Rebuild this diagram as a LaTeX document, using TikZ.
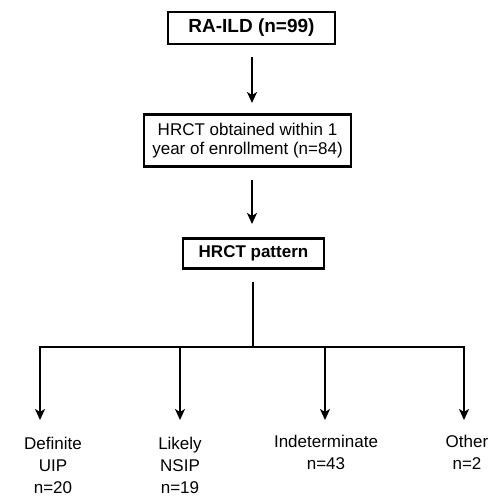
\documentclass[tikz,border=0pt]{standalone}
\usepackage{fontspec}
\setmainfont{Liberation Sans}
\usetikzlibrary{arrows.meta}
\begin{document}
\begin{tikzpicture}[x=1pt,y=-1pt,
  box/.style={draw=black,line width=2.2pt,inner sep=0pt,align=center,font=\fontsize{17}{20}\selectfont},
  lbl/.style={inner sep=0pt,align=center,anchor=north,font=\fontsize{17}{22}\selectfont},
  conn/.style={line width=2pt},
  arr/.style={conn,-{Stealth[length=11pt,width=10pt,inset=3pt]}}]
\useasboundingbox (0,0) rectangle (490,499);
\node[box,minimum width=167pt,minimum height=32pt,font=\fontsize{19}{22}\selectfont\bfseries] (b1) at (251.5,28) {RA-ILD (n=99)};
\node[box,minimum width=207pt,minimum height=52pt] (b2) at (247.5,140.5) {HRCT obtained within 1\\[-1pt]year of enrollment (n=84)};
\node[box,minimum width=141pt,minimum height=30pt,font=\fontsize{17}{20}\selectfont\bfseries] (b3) at (253.5,253.5) {HRCT pattern};
\coordinate (a1s) at (252,57); \coordinate (a1e) at (252,103);
\coordinate (a2s) at (252,180); \coordinate (a2e) at (252,224);
\draw[arr] (a1s) -- (a1e);
\draw[arr] (a2s) -- (a2e);
\coordinate (vs) at (253,282);
\coordinate (hm) at (253,347);
\coordinate (h1) at (40,347);
\coordinate (h2) at (180,347);
\coordinate (h3) at (325,347);
\coordinate (h4) at (464,347);
\coordinate (e1) at (40,420);
\coordinate (e2) at (180,420);
\coordinate (e3) at (325,420);
\coordinate (e4) at (464,420);
\draw[conn] (vs) -- (hm);
\draw[conn,line cap=rect] (h1) -- (h4);
\draw[arr] (h1) -- (e1);
\draw[arr] (h2) -- (e2);
\draw[arr] (h3) -- (e3);
\draw[arr] (h4) -- (e4);
\node[lbl] (l1) at (53,437) {Definite\\UIP\\n=20};
\node[lbl] (l2) at (180,437) {Likely\\NSIP\\n=19};
\node[lbl] (l3) at (326,435) {Indeterminate\\n=43};
\node[lbl] (l4) at (467,435) {Other\\n=2};
\end{tikzpicture}
\end{document}
